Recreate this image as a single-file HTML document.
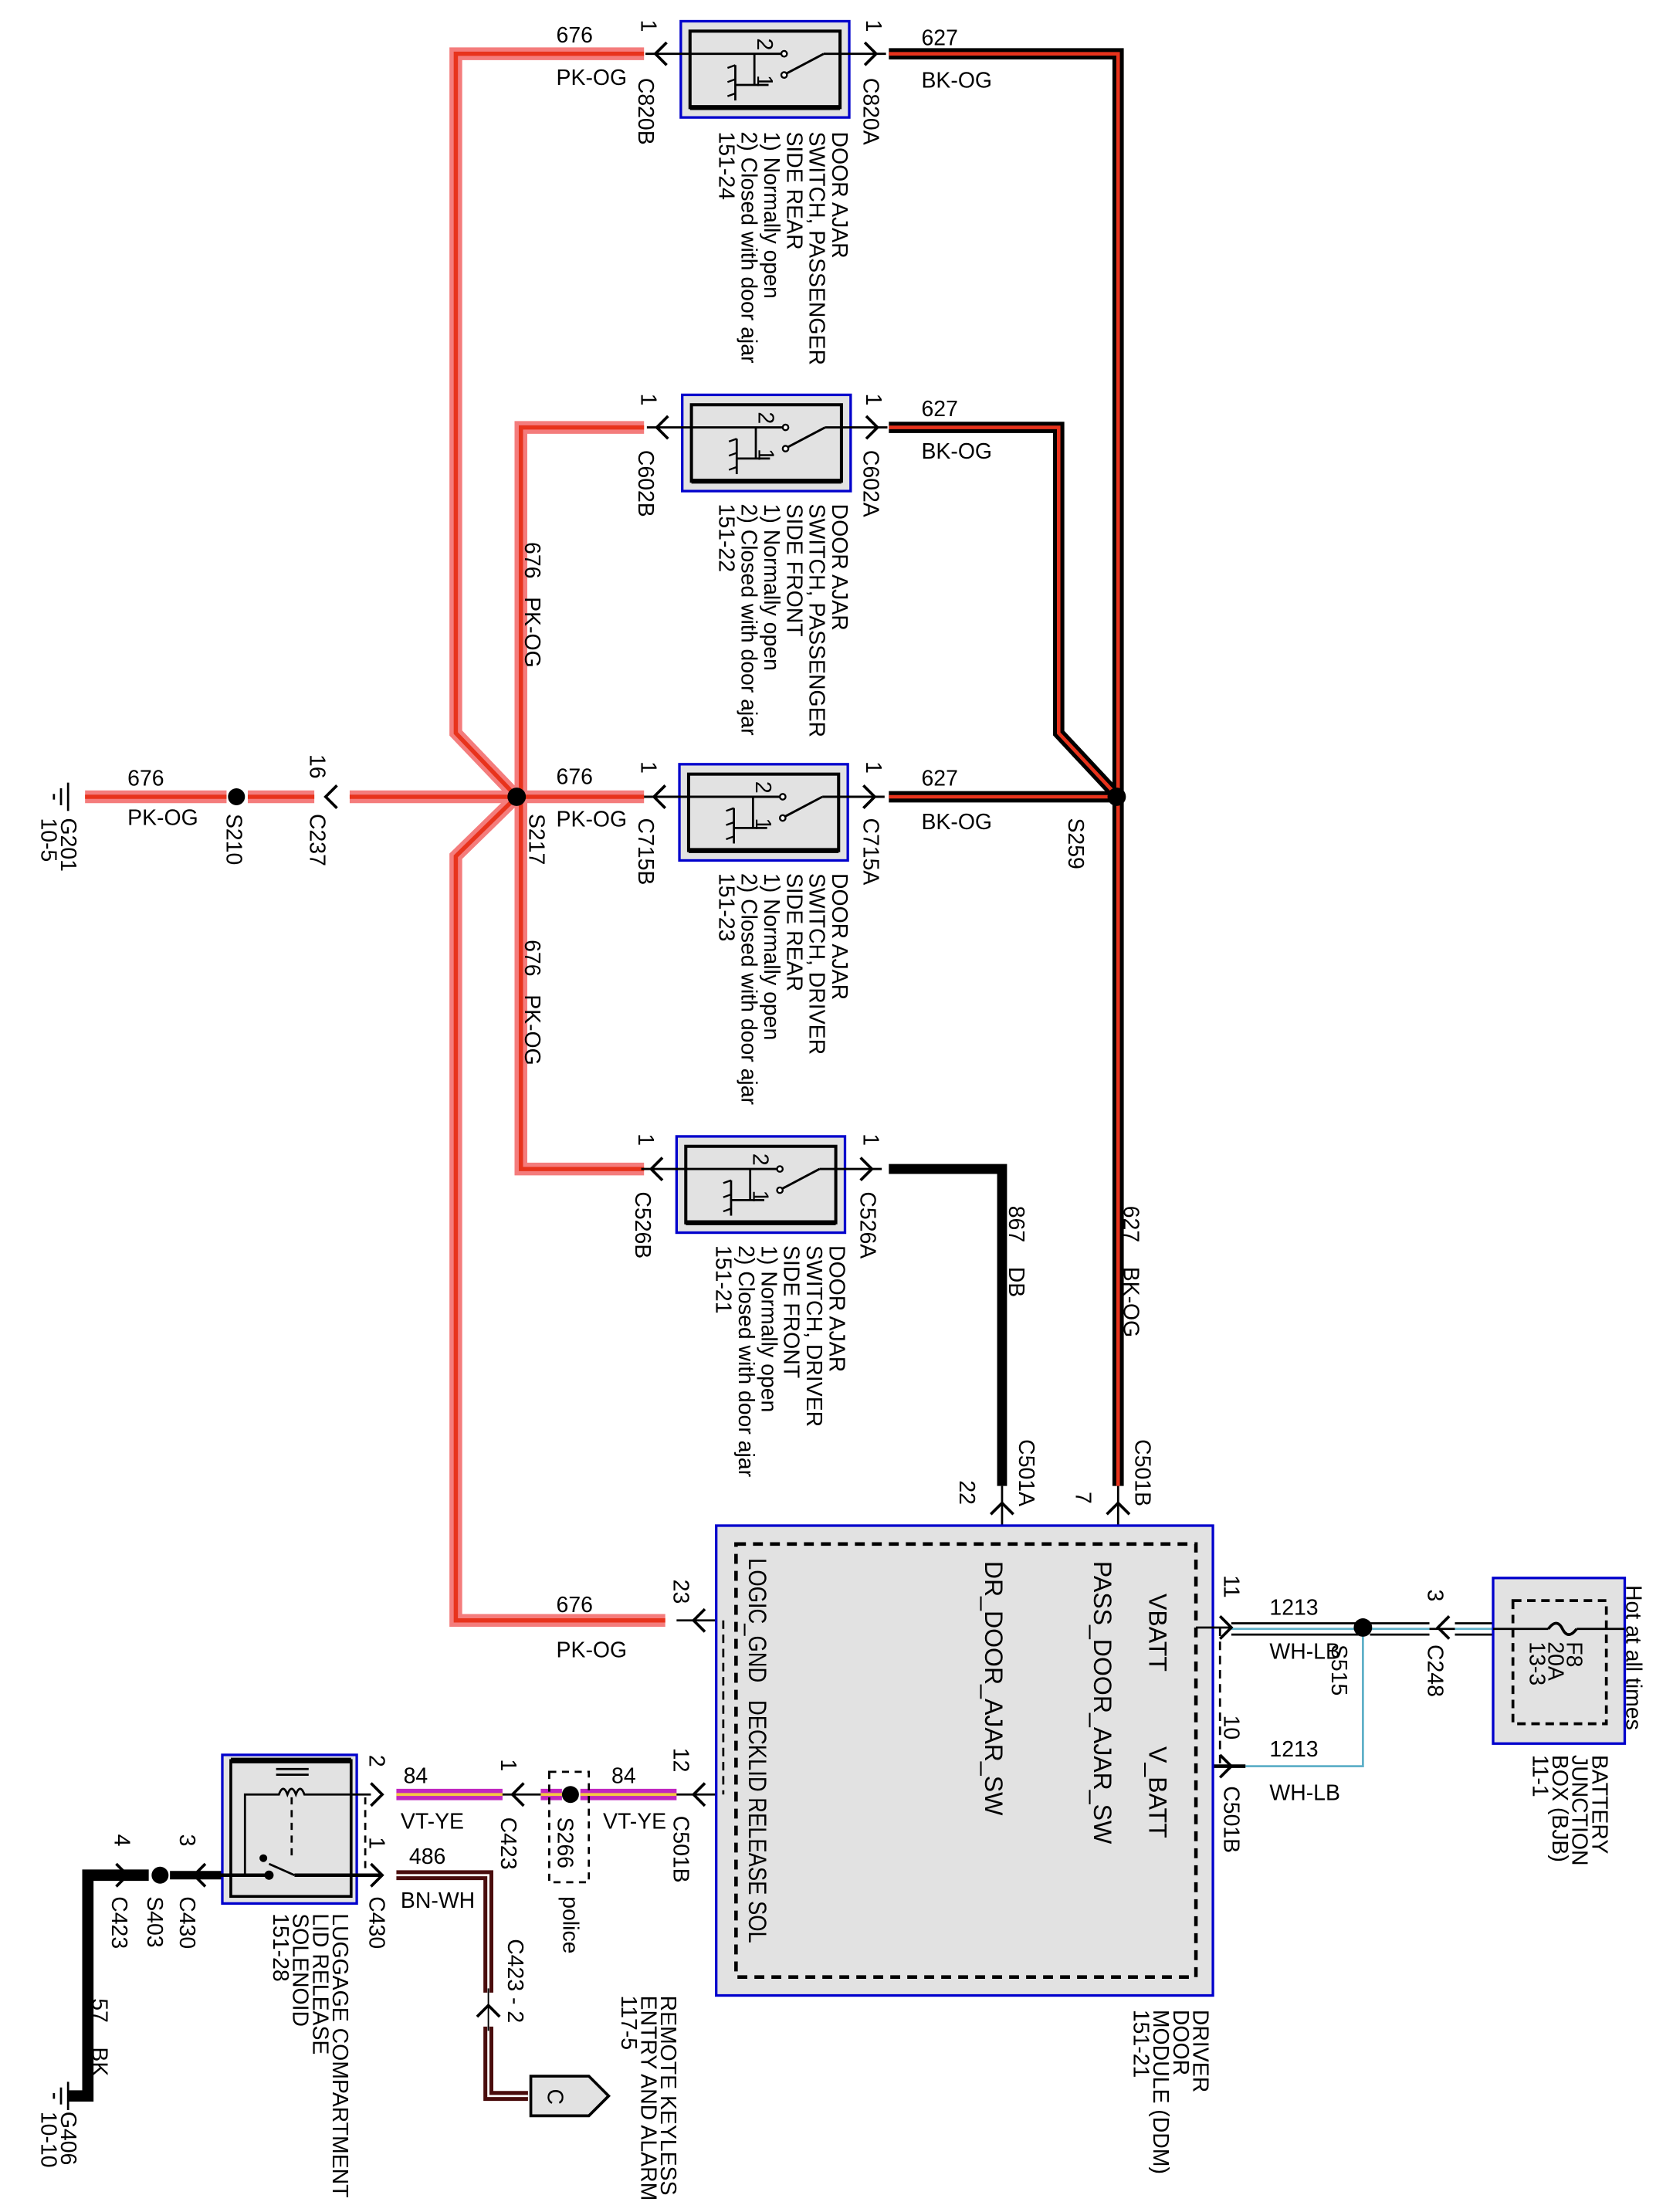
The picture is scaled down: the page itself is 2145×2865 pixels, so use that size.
<!DOCTYPE html>
<html><head><meta charset="utf-8"><style>
html,body{margin:0;padding:0;background:#fff;}
svg{display:block}
text{font-family:"Liberation Sans",sans-serif;fill:#000;white-space:pre;}
.t{font-size:15.5px;}
.m{font-size:17.5px;}
</style></head><body>
<svg width="2145" height="2865" viewBox="0 0 1170 1563" xmlns="http://www.w3.org/2000/svg" xml:space="preserve">
<defs>
<g id="sw">
  <rect x="0" y="0" width="119" height="68" fill="#e2e2e2" stroke="#0000cc" stroke-width="1.8"/>
  <rect x="6.5" y="7" width="106" height="54" fill="none" stroke="#000" stroke-width="2.2"/>
  <line x1="6.5" y1="61" x2="112.5" y2="61" stroke="#000" stroke-width="3.5"/>
  <line x1="-25" y1="23" x2="72" y2="23" stroke="#000" stroke-width="1.6"/>
  <line x1="101" y1="23" x2="145" y2="23" stroke="#000" stroke-width="1.6"/>
  <circle cx="73" cy="23" r="2" fill="#fff" stroke="#000" stroke-width="1.3"/>
  <circle cx="73" cy="38" r="2" fill="#fff" stroke="#000" stroke-width="1.3"/>
  <line x1="74.5" y1="37" x2="101" y2="23" stroke="#000" stroke-width="1.6"/>
  <line x1="52" y1="23" x2="52" y2="45" stroke="#000" stroke-width="1.5"/>
  <line x1="38.5" y1="45" x2="62" y2="45" stroke="#000" stroke-width="1.5"/>
  <line x1="38.5" y1="31" x2="38.5" y2="56" stroke="#000" stroke-width="1.5"/>
  <path d="M33 33 L38.5 31 M33 43 L38.5 41 M33 53 L38.5 51" stroke="#000" stroke-width="1.3" fill="none"/>
  <text class="t" font-size="12" transform="translate(54,12) rotate(90)">2</text>
  <text class="t" font-size="12" transform="translate(54,38) rotate(90)">1</text>
  <path d="M-10 15 L-18 23 L-10 31" fill="none" stroke="#000" stroke-width="2"/>
  <path d="M130 15 L138 23 L130 31" fill="none" stroke="#000" stroke-width="2"/>
</g>
</defs>

<g fill="none" stroke-linejoin="miter">
 <g stroke="#f47c7c" stroke-width="9">
  <polyline points="455,38 322,38 322,518 365,563 322,605 322,1145 470,1145"/>
  <polyline points="455,302 368,302 368,826 455,826"/>
  <line x1="60" y1="563" x2="160" y2="563"/><line x1="175" y1="563" x2="222" y2="563"/><line x1="247" y1="563" x2="455" y2="563"/>
 </g>
 <g stroke="#e8331c" stroke-width="3">
  <polyline points="455,38 322,38 322,518 365,563 322,605 322,1145 470,1145"/>
  <polyline points="455,302 368,302 368,826 455,826"/>
  <line x1="60" y1="563" x2="160" y2="563"/><line x1="175" y1="563" x2="222" y2="563"/><line x1="247" y1="563" x2="455" y2="563"/>
 </g>
 <g stroke="#000" stroke-width="8">
  <polyline points="628,38 790,38 790,1050"/>
  <polyline points="628,302 748,302 748,518 790,563"/>
  <line x1="628" y1="563" x2="790" y2="563"/>
 </g>
 <g stroke="#e8331c" stroke-width="2.5">
  <polyline points="628,38 790,38 790,1050"/>
  <polyline points="628,302 748,302 748,518 790,563"/>
  <line x1="628" y1="563" x2="790" y2="563"/>
 </g>
 <polyline points="628,826 708,826 708,1050" stroke="#000" stroke-width="7"/>
 <g stroke="#c026c0" stroke-width="8"><line x1="280" y1="1268" x2="355" y2="1268"/><line x1="382" y1="1268" x2="397" y2="1268"/><line x1="410" y1="1268" x2="478" y2="1268"/></g>
 <g stroke="#f5c842" stroke-width="2"><line x1="280" y1="1268" x2="355" y2="1268"/><line x1="382" y1="1268" x2="397" y2="1268"/><line x1="410" y1="1268" x2="478" y2="1268"/></g>
 <polyline points="280,1325 345,1325 345,1408" stroke="#4a0d0d" stroke-width="7"/>
 <polyline points="345,1432 345,1481 373,1481" stroke="#4a0d0d" stroke-width="7"/>
 <polyline points="280,1325 345,1325 345,1408" stroke="#fff" stroke-width="1.5"/>
 <polyline points="345,1432 345,1481 373,1481" stroke="#fff" stroke-width="1.5"/>
 <line x1="345" y1="1405" x2="345" y2="1435" stroke="#000" stroke-width="1"/>
 <polyline points="105,1325 62,1325 62,1481 48,1481" stroke="#000" stroke-width="8"/>
 <line x1="120" y1="1325" x2="160" y2="1325" stroke="#000" stroke-width="6"/>
 <g stroke="#000" stroke-width="1.5">
  <line x1="870" y1="1147" x2="960" y2="1147"/><line x1="870" y1="1155" x2="960" y2="1155"/>
  <line x1="968" y1="1147" x2="1010" y2="1147"/><line x1="968" y1="1155" x2="1010" y2="1155"/>
  <line x1="1028" y1="1147" x2="1055" y2="1147"/><line x1="1028" y1="1155" x2="1055" y2="1155"/>
 </g>
 <g stroke="#5fb0c8" stroke-width="1.5">
  <line x1="870" y1="1151" x2="960" y2="1151"/><line x1="968" y1="1151" x2="1010" y2="1151"/><line x1="1028" y1="1151" x2="1055" y2="1151"/>
  <polyline points="880,1248 963,1248 963,1152"/>
 </g>
</g>

<circle cx="167" cy="563" r="6"/><circle cx="365" cy="563" r="6.5"/><circle cx="789" cy="563" r="6.5"/>
<circle cx="963" cy="1150" r="6.5"/><circle cx="113" cy="1325" r="6"/><circle cx="403" cy="1268" r="6"/>

<use href="#sw" x="481" y="15"/>
<use href="#sw" x="482" y="279"/>
<use href="#sw" x="480" y="540"/>
<use href="#sw" x="478" y="803"/>

<g fill="none" stroke="#000" stroke-width="2">
 <path d="M238 555 L230 563 L238 571"/>
 <path d="M700 1070 L708 1062 L716 1070"/><path d="M782 1070 L790 1062 L798 1070"/>
 <line x1="708" y1="1050" x2="708" y2="1090" stroke-width="1.5"/><line x1="790" y1="1050" x2="790" y2="1090" stroke-width="1.5"/>
 <path d="M498 1137 L490 1145 L498 1153"/><path d="M498 1260 L490 1268 L498 1276"/>
 <line x1="478" y1="1145" x2="520" y2="1145" stroke-width="1.5"/><line x1="478" y1="1268" x2="520" y2="1268" stroke-width="1.5"/>
 <path d="M862 1142 L870 1150 L862 1158"/><path d="M862 1240 L870 1248 L862 1256"/>
 <line x1="845" y1="1150" x2="870" y2="1150" stroke-width="1.5"/><line x1="845" y1="1248" x2="880" y2="1248" stroke-width="2.5"/>
 <path d="M1024 1142 L1016 1150 L1024 1158"/><line x1="1010" y1="1151" x2="1028" y2="1151" stroke-width="1.5"/>
 <path d="M262 1260 L270 1268 L262 1276"/><path d="M262 1317 L270 1325 L262 1333"/>
 <path d="M370 1260 L362 1268 L370 1276"/>
 <line x1="355" y1="1268" x2="382" y2="1268" stroke-width="1.5"/>
 <path d="M145 1317 L137 1325 L145 1333"/><path d="M82 1317 L90 1325 L82 1333"/>
 <path d="M337 1425 L345 1417 L353 1425"/>
</g>

<rect x="506" y="1078" width="351" height="332" fill="#e2e2e2" stroke="#0000cc" stroke-width="1.8"/>
<rect x="520" y="1091" width="325" height="306" fill="none" stroke="#000" stroke-width="2.5" stroke-dasharray="7,5"/>
<line x1="511" y1="1145" x2="511" y2="1268" stroke="#000" stroke-width="1.5" stroke-dasharray="6,4"/>
<line x1="862" y1="1150" x2="862" y2="1248" stroke="#000" stroke-width="1.5" stroke-dasharray="6,4"/>
<line x1="845" y1="1150" x2="858" y2="1150" stroke="#000" stroke-width="1.5"/>
<text class="m" transform="translate(812,1126) rotate(90)">VBATT</text>
<text class="m" transform="translate(812,1234) rotate(90)">V_BATT</text>
<text class="m" transform="translate(773,1103) rotate(90)">PASS_DOOR_AJAR_SW</text>
<text class="m" transform="translate(696,1103) rotate(90)">DR_DOOR_AJAR_SW</text>
<text class="m" transform="translate(529,1101) rotate(90)" textLength="272" lengthAdjust="spacingAndGlyphs">LOGIC_GND   DECKLID RELEASE SOL</text>

<rect x="1055" y="1115" width="93" height="117" fill="#e2e2e2" stroke="#0000cc" stroke-width="1.8"/>
<rect x="1069" y="1131" width="66" height="87" fill="none" stroke="#000" stroke-width="2" stroke-dasharray="6,4"/>
<line x1="1055" y1="1151" x2="1094" y2="1151" stroke="#000" stroke-width="1.5"/>
<path d="M1094 1151 q6 -8 10 0 q4 8 10 0" fill="none" stroke="#000" stroke-width="2"/>
<line x1="1114" y1="1151" x2="1148" y2="1151" stroke="#000" stroke-width="1.5"/>
<text class="t" font-size="14" transform="translate(1107,1160) rotate(90)">F8</text>
<text class="t" font-size="14" transform="translate(1094,1160) rotate(90)">20A</text>
<text class="t" font-size="14" transform="translate(1081,1160) rotate(90)">13-3</text>

<rect x="157" y="1240" width="95" height="105" fill="#e2e2e2" stroke="#0000cc" stroke-width="1.8"/>
<rect x="163" y="1244" width="85" height="96" fill="none" stroke="#000" stroke-width="2"/>
<line x1="163" y1="1244" x2="248" y2="1244" stroke="#000" stroke-width="4"/>
<g stroke="#000" fill="none" stroke-width="1.5">
 <line x1="195" y1="1250" x2="218" y2="1250"/><line x1="195" y1="1254" x2="218" y2="1254"/>
 <path d="M173 1325 L173 1268 L197 1268 q3 -8 6 0 q3 -8 6 0 q3 -8 6 0 L262 1268"/>
 <line x1="206" y1="1270" x2="206" y2="1312" stroke-dasharray="5,4"/>
 <circle cx="186" cy="1313" r="2" fill="#000"/><circle cx="190" cy="1325" r="2.5" fill="#000"/>
 <line x1="190" y1="1317" x2="208" y2="1325"/>
 <line x1="145" y1="1325" x2="190" y2="1325" stroke-width="2.5"/>
 <line x1="208" y1="1325" x2="270" y2="1325" stroke-width="2.5"/>
 <line x1="258" y1="1270" x2="258" y2="1320" stroke-dasharray="5,4"/>
 <rect x="388" y="1252" width="28" height="78" stroke-dasharray="5,4"/>
</g>
<path d="M375 1467 L416 1467 L430 1481 L416 1495 L375 1495 Z" fill="#e2e2e2" stroke="#000" stroke-width="2"/>
<text class="t" transform="translate(387,1476) rotate(90)">C</text>

<g stroke="#000" stroke-width="1.5">
 <line x1="48" y1="553" x2="48" y2="573"/><line x1="43" y1="557" x2="43" y2="569"/><line x1="38" y1="561" x2="38" y2="565"/>
 <line x1="48" y1="1471" x2="48" y2="1491"/><line x1="43" y1="1475" x2="43" y2="1487"/><line x1="38" y1="1479" x2="38" y2="1483"/>
</g>

<g class="t">
<text x="393" y="30">676</text><text x="393" y="60">PK-OG</text>
<text x="651" y="32">627</text><text x="651" y="62">BK-OG</text>
<text x="651" y="294">627</text><text x="651" y="324">BK-OG</text>
<text x="393" y="554">676</text><text x="393" y="584">PK-OG</text>
<text x="651" y="555">627</text><text x="651" y="586">BK-OG</text>
<text x="90" y="555">676</text><text x="90" y="583">PK-OG</text>
<text x="393" y="1139">676</text><text x="393" y="1171">PK-OG</text>
<text x="432" y="1260">84</text><text x="426" y="1292">VT-YE</text>
<text x="285" y="1260">84</text><text x="283" y="1292">VT-YE</text>
<text x="289" y="1317">486</text><text x="283" y="1348">BN-WH</text>
<text x="897" y="1141">1213</text><text x="897" y="1172">WH-LB</text>
<text x="897" y="1241">1213</text><text x="897" y="1272">WH-LB</text>
</g>

<g class="t">
<text transform="translate(453,14) rotate(90)">1</text><text transform="translate(451,55) rotate(90)">C820B</text>
<text transform="translate(612,14) rotate(90)">1</text><text transform="translate(610,55) rotate(90)">C820A</text>
<text transform="translate(588,93) rotate(90)">DOOR AJAR</text>
<text transform="translate(572,93) rotate(90)">SWITCH, PASSENGER</text>
<text transform="translate(556,93) rotate(90)">SIDE REAR</text>
<text transform="translate(540,93) rotate(90)">1) Normally open</text>
<text transform="translate(524,93) rotate(90)">2) Closed with door ajar</text>
<text transform="translate(508,93) rotate(90)">151-24</text>

<text transform="translate(453,278) rotate(90)">1</text><text transform="translate(451,318) rotate(90)">C602B</text>
<text transform="translate(612,278) rotate(90)">1</text><text transform="translate(610,318) rotate(90)">C602A</text>
<text transform="translate(588,356) rotate(90)">DOOR AJAR</text>
<text transform="translate(572,356) rotate(90)">SWITCH, PASSENGER</text>
<text transform="translate(556,356) rotate(90)">SIDE FRONT</text>
<text transform="translate(540,356) rotate(90)">1) Normally open</text>
<text transform="translate(524,356) rotate(90)">2) Closed with door ajar</text>
<text transform="translate(508,356) rotate(90)">151-22</text>

<text transform="translate(453,538) rotate(90)">1</text><text transform="translate(451,578) rotate(90)">C715B</text>
<text transform="translate(612,538) rotate(90)">1</text><text transform="translate(610,578) rotate(90)">C715A</text>
<text transform="translate(588,617) rotate(90)">DOOR AJAR</text>
<text transform="translate(572,617) rotate(90)">SWITCH, DRIVER</text>
<text transform="translate(556,617) rotate(90)">SIDE REAR</text>
<text transform="translate(540,617) rotate(90)">1) Normally open</text>
<text transform="translate(524,617) rotate(90)">2) Closed with door ajar</text>
<text transform="translate(508,617) rotate(90)">151-23</text>

<text transform="translate(451,801) rotate(90)">1</text><text transform="translate(449,842) rotate(90)">C526B</text>
<text transform="translate(610,801) rotate(90)">1</text><text transform="translate(608,842) rotate(90)">C526A</text>
<text transform="translate(586,880) rotate(90)">DOOR AJAR</text>
<text transform="translate(570,880) rotate(90)">SWITCH, DRIVER</text>
<text transform="translate(554,880) rotate(90)">SIDE FRONT</text>
<text transform="translate(538,880) rotate(90)">1) Normally open</text>
<text transform="translate(522,880) rotate(90)">2) Closed with door ajar</text>
<text transform="translate(506,880) rotate(90)">151-21</text>

<text transform="translate(371,383) rotate(90)">676   PK-OG</text>
<text transform="translate(371,664) rotate(90)">676   PK-OG</text>
<text transform="translate(713,852) rotate(90)">867    DB</text>
<text transform="translate(794,852) rotate(90)">627    BK-OG</text>
<text transform="translate(720,1017) rotate(90)">C501A</text>
<text transform="translate(802,1017) rotate(90)">C501B</text>
<text transform="translate(678,1046) rotate(90)">22</text>
<text transform="translate(760,1054) rotate(90)">7</text>

<text transform="translate(219,533) rotate(90)">16</text>
<text transform="translate(219,575) rotate(90)">C237</text>
<text transform="translate(160,575) rotate(90)">S210</text>
<text transform="translate(374,575) rotate(90)">S217</text>
<text transform="translate(755,578) rotate(90)">S259</text>
<text transform="translate(43,578) rotate(90)">G201</text>
<text transform="translate(29,578) rotate(90)">10-5</text>

<text transform="translate(476,1116) rotate(90)">23</text>
<text transform="translate(476,1235) rotate(90)">12</text>
<text transform="translate(476,1283) rotate(90)">C501B</text>
<text transform="translate(865,1113) rotate(90)">11</text>
<text transform="translate(865,1212) rotate(90)">10</text>
<text transform="translate(865,1262) rotate(90)">C501B</text>
<text transform="translate(941,1162) rotate(90)">S515</text>
<text transform="translate(1009,1123) rotate(90)">3</text>
<text transform="translate(1009,1162) rotate(90)">C248</text>
<text transform="translate(1149,1120) rotate(90)">Hot at all times</text>
<text transform="translate(1125,1240) rotate(90)">BATTERY</text>
<text transform="translate(1111,1240) rotate(90)">JUNCTION</text>
<text transform="translate(1097,1240) rotate(90)">BOX (BJB)</text>
<text transform="translate(1083,1240) rotate(90)">11-1</text>
<text transform="translate(843,1420) rotate(90)">DRIVER</text>
<text transform="translate(829,1420) rotate(90)">DOOR</text>
<text transform="translate(815,1420) rotate(90)">MODULE (DDM)</text>
<text transform="translate(801,1420) rotate(90)">151-21</text>

<text transform="translate(261,1240) rotate(90)">2</text>
<text transform="translate(261,1298) rotate(90)">1</text>
<text transform="translate(261,1340) rotate(90)">C430</text>
<text transform="translate(354,1243) rotate(90)">1</text>
<text transform="translate(354,1284) rotate(90)">C423</text>
<text transform="translate(394,1284) rotate(90)">S266</text>
<text transform="translate(398,1340) rotate(90)">police</text>
<text transform="translate(127,1296) rotate(90)">3</text>
<text transform="translate(81,1296) rotate(90)">4</text>
<text transform="translate(127,1340) rotate(90)">C430</text>
<text transform="translate(104,1340) rotate(90)">S403</text>
<text transform="translate(79,1340) rotate(90)">C423</text>
<text transform="translate(65,1412) rotate(90)">57    BK</text>
<text transform="translate(43,1492) rotate(90)">G406</text>
<text transform="translate(29,1492) rotate(90)">10-10</text>
<text transform="translate(235,1352) rotate(90)">LUGGAGE COMPARTMENT</text>
<text transform="translate(221,1352) rotate(90)">LID RELEASE</text>
<text transform="translate(207,1352) rotate(90)">SOLENOID</text>
<text transform="translate(193,1352) rotate(90)">151-28</text>
<text transform="translate(359,1370) rotate(90)">C423 - 2</text>
<text transform="translate(467,1410) rotate(90)">REMOTE KEYLESS</text>
<text transform="translate(453,1410) rotate(90)">ENTRY AND ALARM</text>
<text transform="translate(439,1410) rotate(90)">117-5</text>
</g>
</svg>
</body></html>
